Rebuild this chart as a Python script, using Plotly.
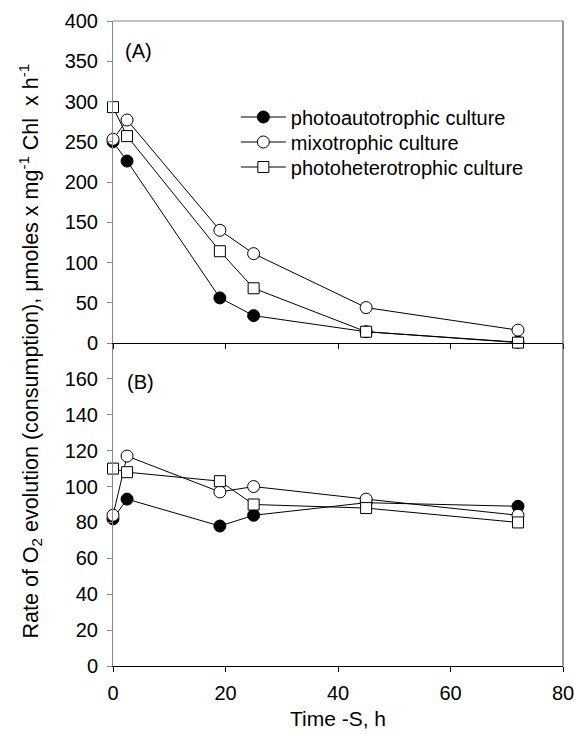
import plotly.graph_objects as go

# ---- data ----
time = [0, 2.5, 19, 25, 45, 72]
a_auto = [250, 226, 56, 34, 14, 1]
a_mixo = [253, 277, 140, 111, 44, 16]
a_hetero = [293, 257, 114, 68, 14, 0.5]
b_auto = [82, 93, 78, 84, 91, 89]
b_mixo = [84, 117, 97, 100, 93, 84]
b_hetero = [110, 108, 103, 90, 88, 80]
names = ["photoautotrophic culture", "mixotrophic culture", "photoheterotrophic culture"]
x_ticks = [0, 20, 40, 60, 80]
ya_ticks = [0, 50, 100, 150, 200, 250, 300, 350, 400]
yb_ticks = [0, 20, 40, 60, 80, 100, 120, 140, 160]

FONT = "Liberation Sans, Arial, sans-serif"
styles = [
    dict(symbol="circle", color="black", size=12),
    dict(symbol="circle", color="white", size=12),
    dict(symbol="square", color="white", size=11),
]
legend_ids = ["legend", "legend2", "legend3"]

fig = go.Figure()
for name, vals, st, lg in zip(names, [a_auto, a_mixo, a_hetero], styles, legend_ids):
    fig.add_trace(go.Scatter(
        x=time, y=vals, name=name, mode="lines+markers", xaxis="x2", yaxis="y2",
        line=dict(color="black", width=1),
        marker=dict(symbol=st["symbol"], size=st["size"], color=st["color"],
                    line=dict(color="black", width=1)),
        cliponaxis=False, showlegend=True, legend=lg))
for name, vals, st in zip(names, [b_auto, b_mixo, b_hetero], styles):
    fig.add_trace(go.Scatter(
        x=time, y=vals, name=name, mode="lines+markers", xaxis="x", yaxis="y",
        line=dict(color="black", width=1),
        marker=dict(symbol=st["symbol"], size=st["size"], color=st["color"],
                    line=dict(color="black", width=1)),
        cliponaxis=False, showlegend=False))

split = 323 / 645
axis_common = dict(showgrid=False, zeroline=False, ticks="outside", ticklen=5,
                   automargin=False, ticklabeloverflow="allow",
                   tickfont=dict(family=FONT, size=20, color="black"))

def legend_at(ypx):
    return dict(x=0.273, y=(666 - ypx) / 645, xanchor="left", yanchor="middle",
                font=dict(family=FONT, size=20), bgcolor="rgba(0,0,0,0)",
                itemwidth=45)

fig.update_layout(
    width=574, height=734,
    margin=dict(l=113, r=11, t=21, b=68, autoexpand=False),
    plot_bgcolor="white", paper_bgcolor="white",
    font=dict(family=FONT, color="black"),
    xaxis=dict(domain=[0, 1], range=[0, 80], tickvals=x_ticks, anchor="y",
               showline=True, linecolor="black", linewidth=1, tickcolor="black",
               ticklabelstandoff=4,
               title=dict(text="Time -S, h", font=dict(family=FONT, size=21), standoff=8),
               **axis_common),
    xaxis2=dict(domain=[0, 1], range=[0, 80], tickvals=x_ticks, anchor="y2", matches="x",
                showticklabels=False, showline=True, linecolor="black", linewidth=1,
                tickcolor="black", **axis_common),
    yaxis=dict(domain=[0, split], range=[0, 180], tickvals=yb_ticks, anchor="x",
               showline=True, linecolor="#888888", linewidth=1, tickcolor="#888888",
               ticklabelstandoff=5, **axis_common),
    yaxis2=dict(domain=[split, 1], range=[0, 400], tickvals=ya_ticks, anchor="x2",
                showline=True, linecolor="#888888", linewidth=1, tickcolor="#888888",
                ticklabelstandoff=5, **axis_common),
    legend=legend_at(117),
    legend2=legend_at(142),
    legend3=legend_at(167),
    shapes=[
        dict(type="line", xref="paper", yref="paper", x0=0, x1=1, y0=1, y1=1,
             line=dict(color="#888888", width=1)),
        dict(type="line", xref="paper", yref="paper", x0=1, x1=1, y0=0, y1=1,
             line=dict(color="#333333", width=1)),
    ],
    annotations=[
        dict(text="(A)", x=1.7, y=363, xref="x2", yref="y2", xanchor="left", yanchor="middle",
             showarrow=False, font=dict(family=FONT, size=20)),
        dict(text="(B)", x=2.1, y=158, xref="x", yref="y", xanchor="left", yanchor="middle",
             showarrow=False, font=dict(family=FONT, size=20)),
        dict(text="Rate of O<sub>2</sub> evolution (consumption), \u03bcmoles x mg<sup>-1</sup> Chl \u00a0x h<sup>-1</sup>",
             x=-0.184, y=0.488, xref="paper", yref="paper", xanchor="center", yanchor="middle",
             textangle=-90, showarrow=False, font=dict(family=FONT, size=21.5)),
    ],
)
fig.write_html("out.html")
